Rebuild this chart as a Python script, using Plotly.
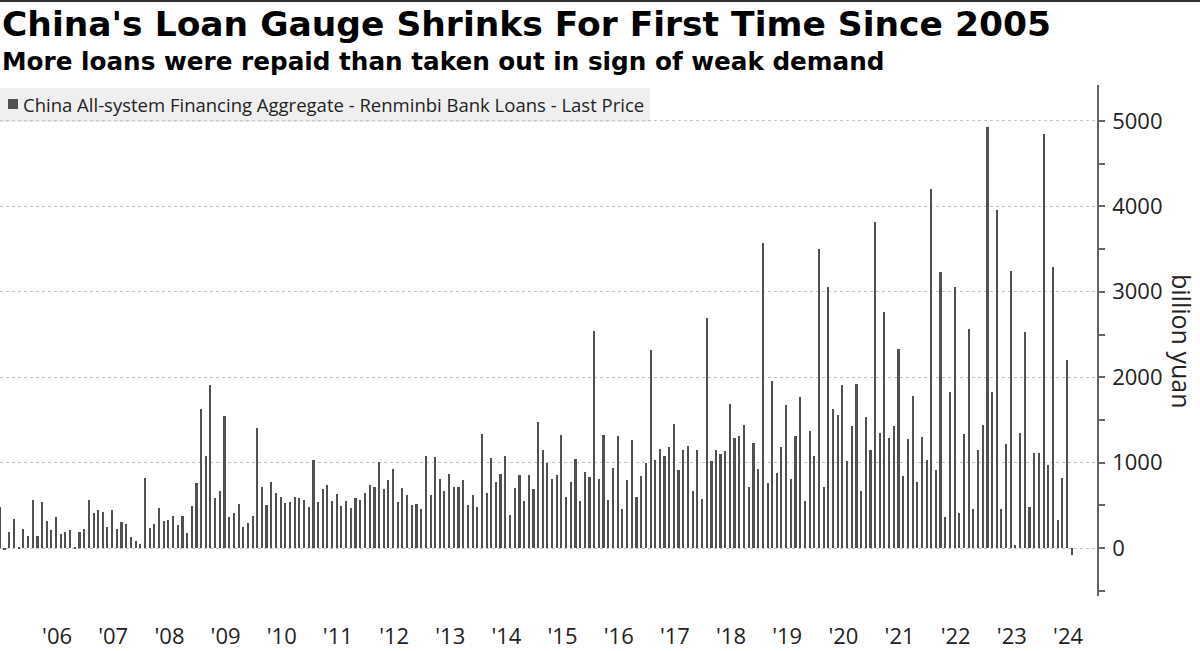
import pandas as pd
import plotly.graph_objects as go

# ---- data (billion yuan), monthly from Jun 2005 to Jul 2024 ----
start_month = "2005-06-01"
loans = [
    # 2005 Jun-Dec
    480, -25, 188, 340, 16, 223, 145,
    # 2006
    566, 145, 539, 316, 215, 367, 168, 191, 211, 12, 191, 223,
    # 2007
    562, 414, 445, 426, 250, 449, 223, 305, 285, 133, 86, 51,
    # 2008
    816, 234, 285, 473, 320, 332, 379, 273, 379, 180, 488, 766,
    # 2009
    1625, 1082, 1906, 590, 672, 1543, 367, 414, 516, 250, 293, 379,
    # 2010
    1402, 711, 508, 777, 648, 598, 531, 539, 602, 590, 566, 484,
    # 2011
    1035, 539, 688, 742, 555, 637, 496, 555, 473, 590, 566, 648,
    # 2012
    742, 719, 1012, 688, 801, 930, 543, 707, 625, 508, 520, 461,
    # 2013
    1082, 625, 1070, 805, 672, 871, 711, 719, 793, 508, 625, 484,
    # 2014
    1332, 648, 1059, 777, 871, 1082, 391, 707, 859, 555, 855, 695,
    # 2015
    1480, 1152, 1000, 813, 855, 1322, 593, 772, 1045, 550, 889, 834,
    # 2016
    2546, 811, 1329, 561, 940, 1310, 460, 799, 1267, 600, 846, 994,
    # 2017
    2324, 1037, 1162, 1080, 1181, 1454, 916, 1150, 1197, 667, 1146, 577,
    # 2018
    2698, 1021, 1150, 1099, 1138, 1688, 1290, 1307, 1440, 716, 1230, 926,
    # 2019
    3576, 759, 1961, 879, 1183, 1673, 805, 1311, 1767, 549, 1374, 1078,
    # 2020
    3498, 716, 3054, 1626, 1556, 1907, 1019, 1428, 1922, 665, 1533, 1152,
    # 2021
    3821, 1346, 2759, 1292, 1428, 2327, 840, 1276, 1778, 774, 1300, 1031,
    # 2022
    4202, 919, 3233, 368, 1822, 3058, 415, 1337, 2570, 453, 1151, 1442,
    # 2023
    4934, 1822, 3953, 453, 1221, 3240, 39, 1349, 2535, 484, 1116, 1116,
    # 2024 Jan-Jul
    4841, 977, 3295, 329, 826, 2202, -77,
]
months = pd.date_range(start_month, periods=len(loans), freq="MS")

year_ticks = list(range(2006, 2025))
year_labels = ["'%02d" % (y % 100) for y in year_ticks]
year_tick_dates = [pd.Timestamp(f"{y}-06-08") for y in year_ticks]

y_ticks = [0, 1000, 2000, 3000, 4000, 5000]

series_name = "China All-system Financing Aggregate - Renminbi Bank Loans - Last Price"
title = "China's Loan Gauge Shrinks For First Time Since 2005"
subtitle = "More loans were repaid than taken out in sign of weak demand"

# ---- layout geometry (pixels) ----
W, H = 1200, 651
PL, PR, PT, PB = 0, 1097, 85, 596   # plot area edges


def px(x):
    return (x - PL) / (PR - PL)


def py(y):
    return (PB - y) / (PB - PT)


BAR_COLOR = "#505050"
TICK_FONT = dict(family="Open Sans, DejaVu Sans, sans-serif", size=22, color="#222")

fig = go.Figure()
fig.add_trace(go.Bar(
    x=months, y=loans, name=series_name,
    marker=dict(color=BAR_COLOR, line=dict(width=0)),
    width=14 * 24 * 3600 * 1000,
    showlegend=False,
))

fig.update_layout(
    width=W, height=H,
    margin=dict(l=PL, r=W - PR, t=PT, b=H - PB, pad=0, autoexpand=False),
    paper_bgcolor="white", plot_bgcolor="white",
    bargap=0,
    xaxis=dict(
        type="date",
        range=["2005-06-02", "2024-12-13"],
        tickmode="array", tickvals=year_tick_dates, ticktext=year_labels,
        showgrid=False, zeroline=False, showline=False,
        ticks="", tickfont=TICK_FONT, ticklabelstandoff=25,
        automargin=False,
    ),
    yaxis=dict(
        side="right",
        range=[-560, 5420],
        tickmode="array", tickvals=y_ticks,
        showgrid=True, gridcolor="#c4c4c4", griddash="dot", gridwidth=1,
        zeroline=False,
        showline=True, linecolor="#666", linewidth=1.5,
        ticks="outside", ticklen=6, tickcolor="#666", tickwidth=1.5,
        minor=dict(tickmode="linear", tick0=0, dtick=500, ticks="outside",
                   ticklen=6, tickcolor="#666", tickwidth=1.5, showgrid=False),
        tickfont=TICK_FONT, ticklabelstandoff=3,
        automargin=False,
    ),
)

shapes = [
    # top border line
    dict(type="line", xref="paper", yref="paper", x0=px(0), x1=px(W),
         y0=py(1), y1=py(1), line=dict(color="#333", width=2)),
    # legend background
    dict(type="rect", xref="paper", yref="paper", x0=px(0), x1=px(650),
         y0=py(122), y1=py(88), fillcolor="#efefef", line=dict(width=0), layer="below"),
    # legend swatch
    dict(type="rect", xref="paper", yref="paper", x0=px(8), x1=px(18),
         y0=py(109), y1=py(99), fillcolor=BAR_COLOR, line=dict(width=0)),
]
fig.update_layout(shapes=shapes)

annotations = [
    dict(text=title, xref="paper", yref="paper", x=px(0), y=py(24),
         xanchor="left", yanchor="middle", showarrow=False,
         font=dict(family="DejaVu Sans", size=34.5, color="#000", weight="bold")),
    dict(text=subtitle, xref="paper", yref="paper", x=px(0), y=py(61),
         xanchor="left", yanchor="middle", showarrow=False,
         font=dict(family="DejaVu Sans", size=24.7, color="#000", weight="bold")),
    dict(text=series_name, xref="paper", yref="paper", x=px(21), y=py(104),
         xanchor="left", yanchor="middle", showarrow=False,
         font=dict(family="Open Sans, sans-serif", size=18.5, color="#222")),
    dict(text="billion yuan", xref="paper", yref="paper", x=px(1182), y=py(341),
         xanchor="center", yanchor="middle", showarrow=False, textangle=90,
         font=dict(family="Open Sans, DejaVu Sans, sans-serif", size=25, color="#222")),
]
fig.update_layout(annotations=annotations)

fig.write_html(
    "out.html",
    config={"displayModeBar": False},
    post_script="document.body.style.margin='0';document.body.style.overflow='hidden';",
)
